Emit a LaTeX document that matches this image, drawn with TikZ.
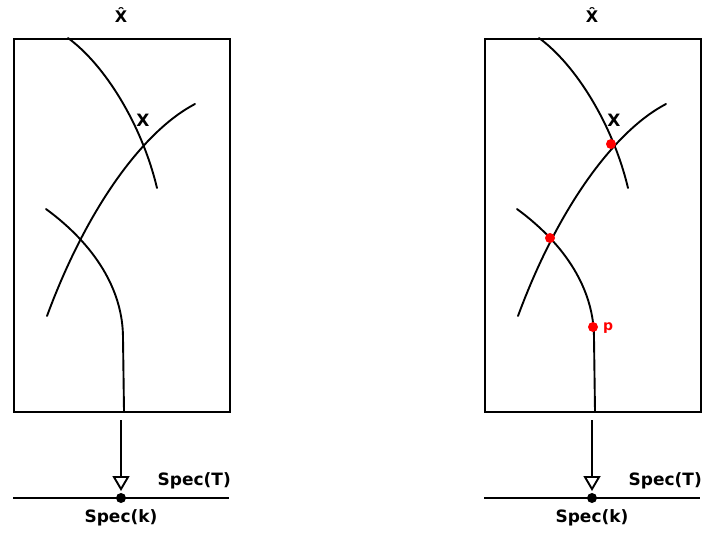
\documentclass[tikz,border=0pt]{standalone}
\usepackage{fontspec}
\setmainfont{DejaVu Sans}
\usetikzlibrary{arrows.meta}
\begin{document}
\begin{tikzpicture}[x=1pt,y=-1pt,
  curve/.style={line width=1.9pt,line cap=round},
  frame/.style={line width=1.9pt},
  lbl/.style={font=\fontsize{17}{20}\selectfont\bfseries,inner sep=0pt},
  hatlbl/.style={font=\fontsize{16}{19}\selectfont\bfseries,inner sep=0pt},
  reddot/.style={circle,fill=red,inner sep=0pt,minimum size=10pt},
  blackdot/.style={circle,fill=black,inner sep=0pt,minimum size=10pt},
  plbl/.style={font=\fontsize{14}{16}\selectfont\bfseries,text=red,inner sep=0pt},
  openarrow/.style={line width=1.9pt,-{Triangle[open,length=15pt,width=17pt,line width=1.9pt]}}]
\useasboundingbox (0,0) rectangle (705,536);
\foreach \dx/\nm in {0/L,471/R}{
\begin{scope}[xshift=\dx pt]
  \node[frame,draw,minimum width=216pt,minimum height=373pt,inner sep=0pt,anchor=north west] (box\nm) at (13,38) {};
  \node[hatlbl] (hat\nm) at (121,15) {\^{X}};
  \node[lbl] (x\nm) at (143,120) {X};
  \draw[curve] (68,38) .. controls (105,65) and (142,125) .. (157,188);
  \draw[curve] (195,104) .. controls (145,130) and (88,205) .. (47,316);
  \draw[curve] (46,209) .. controls (95,245) and (123,290) .. (123,338) -- (124,411);
  \coordinate (top\nm) at (121,420);
  \coordinate (base\nm) at (121,491);
  \draw[openarrow] (top\nm) -- (base\nm);
  \coordinate (ll\nm) at (13,498);
  \coordinate (lr\nm) at (229,498);
  \draw[line width=1.9pt] (ll\nm) -- (lr\nm);
  \node[blackdot] (k\nm) at (121,498) {};
  \node[lbl,anchor=east] (specT\nm) at (231,481) {Spec(T)};
  \node[lbl] (speck\nm) at (121,518) {Spec(k)};
\end{scope}}
\node[reddot] (q1) at (611,144) {};
\node[reddot] (q2) at (550,238) {};
\node[reddot] (p) at (593,327) {};
\node[plbl,anchor=west] (plabel) at (603,328) {p};
\end{tikzpicture}
\end{document}
